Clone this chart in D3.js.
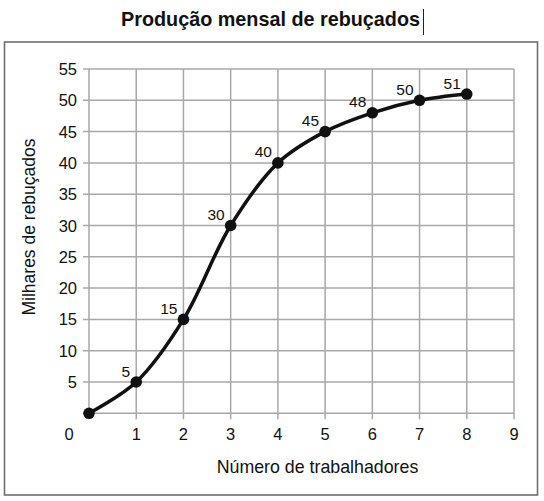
<!DOCTYPE html>
<html>
<head>
<meta charset="utf-8">
<script src="https://cdn.jsdelivr.net/npm/d3@7"></script>
<style>
  html, body { margin: 0; padding: 0; background: #fff; }
  svg { display: block; font-family: "Liberation Sans", Arial, sans-serif; }
</style>
</head>
<body>
<svg id="chart" width="544" height="501"></svg>
<script>
// ---- data ----
const workers = [0, 1, 2, 3, 4, 5, 6, 7, 8];
const production = [0, 5, 15, 30, 40, 45, 48, 50, 51];
const pointLabels = ["", "5", "15", "30", "40", "45", "48", "50", "51"];
const xTicks = [1, 2, 3, 4, 5, 6, 7, 8, 9];
const yTicks = [5, 10, 15, 20, 25, 30, 35, 40, 45, 50, 55];
const title = "Produção mensal de rebuçados";
const xTitle = "Número de trabalhadores";
const yTitle = "Milhares de rebuçados";

const svg = d3.select("#chart");

// frame
svg.append("rect")
  .attr("x", 4.5).attr("y", 42).attr("width", 533).attr("height", 453)
  .attr("fill", "#fff").attr("stroke", "#6e6e6e").attr("stroke-width", 1.6);

// title
svg.append("text")
  .attr("x", 270.5).attr("y", 19)
  .attr("text-anchor", "middle").attr("dominant-baseline", "central")
  .attr("font-weight", "bold").attr("font-size", 19.8).attr("fill", "#111")
  .text(title);
// text cursor next to title
svg.append("line")
  .attr("x1", 423.5).attr("x2", 423.5).attr("y1", 9).attr("y2", 35)
  .attr("stroke", "#222").attr("stroke-width", 1);

const x = d3.scaleLinear().domain([0, 9]).range([89, 514]);
const y = d3.scaleLinear().domain([0, 55]).range([413.3, 69]);

const grid = svg.append("g");
// vertical grid lines (with tick stubs below)
grid.selectAll("line.v").data([0].concat(xTicks)).join("line")
  .attr("class", "v")
  .attr("x1", d => x(d)).attr("x2", d => x(d))
  .attr("y1", y(55)).attr("y2", y(0) + 6)
  .attr("stroke", "#a8a8a8").attr("stroke-width", 1.5);
// horizontal grid lines (with tick stubs left)
grid.selectAll("line.h").data([0].concat(yTicks)).join("line")
  .attr("class", "h")
  .attr("x1", x(0) - 6).attr("x2", x(9))
  .attr("y1", d => y(d)).attr("y2", d => y(d))
  .attr("stroke", "#a8a8a8").attr("stroke-width", 1.5);

// y tick labels
svg.append("g").selectAll("text").data(yTicks).join("text")
  .attr("x", 77).attr("y", d => y(d))
  .attr("text-anchor", "end").attr("dominant-baseline", "central")
  .attr("font-size", 16.5).attr("fill", "#111")
  .text(d => d);

// x tick labels
svg.append("g").selectAll("text").data(xTicks).join("text")
  .attr("x", d => x(d)).attr("y", 433.5)
  .attr("text-anchor", "middle").attr("dominant-baseline", "central")
  .attr("font-size", 16.5).attr("fill", "#111")
  .text(d => d);
// shared origin label
svg.append("text")
  .attr("x", x(0) - 20).attr("y", 433.5)
  .attr("text-anchor", "middle").attr("dominant-baseline", "central")
  .attr("font-size", 16.5).attr("fill", "#111")
  .text("0");

// axis titles
svg.append("text")
  .attr("x", 317.5).attr("y", 467)
  .attr("text-anchor", "middle").attr("dominant-baseline", "central")
  .attr("font-size", 17.8).attr("fill", "#111")
  .text(xTitle);
svg.append("text")
  .attr("transform", "translate(29,227) rotate(-90)")
  .attr("text-anchor", "middle").attr("dominant-baseline", "central")
  .attr("font-size", 17.5).attr("fill", "#111")
  .text(yTitle);

// curve
const pts = workers.map((w, i) => [w, production[i]]);
const line = d3.line()
  .x(d => x(d[0])).y(d => y(d[1]))
  .curve(d3.curveCatmullRom.alpha(0.5));
svg.append("path")
  .datum(pts)
  .attr("d", line)
  .attr("fill", "none").attr("stroke", "#111").attr("stroke-width", 3.5)
  .attr("stroke-linejoin", "round").attr("stroke-linecap", "round");

// points
svg.append("g").selectAll("circle").data(pts).join("circle")
  .attr("cx", d => x(d[0])).attr("cy", d => y(d[1]))
  .attr("r", 5.8).attr("fill", "#111");

// value labels
svg.append("g").selectAll("text").data(pts).join("text")
  .attr("x", d => x(d[0]) - 6).attr("y", d => y(d[1]) - 11)
  .attr("text-anchor", "end").attr("dominant-baseline", "central")
  .attr("font-size", 15.5).attr("fill", "#111")
  .text((d, i) => pointLabels[i]);
</script>
</body>
</html>
